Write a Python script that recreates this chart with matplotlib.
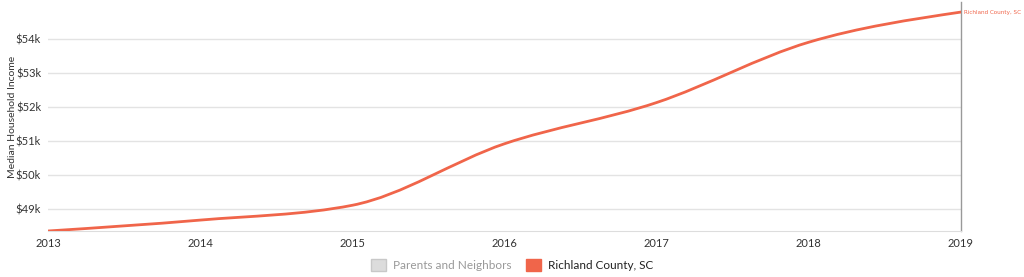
import matplotlib
matplotlib.use('Agg')
import matplotlib.pyplot as plt
import numpy as np
from matplotlib.path import Path
from matplotlib.patches import PathPatch, Patch

plt.rcParams['font.family'] = ['Lato', 'DejaVu Sans']

years = [2013, 2014, 2015, 2016, 2017, 2018, 2019]
income = [48360, 48680, 49115, 50920, 52130, 53900, 54785]
y_ticks = [49000, 50000, 51000, 52000, 53000, 54000]
y_labels = ['$49k', '$50k', '$51k', '$52k', '$53k', '$54k']
series_name = 'Richland County, SC'
other_name = 'Parents and Neighbors'

line_color = '#f0654a'


def monotone_path(xs, ys):
    # cubic bezier path with monotone tangents (like d3.curveMonotoneX)
    xs = np.asarray(xs, float)
    ys = np.asarray(ys, float)
    h = np.diff(xs)
    s = np.diff(ys) / h
    n = len(xs)
    t = np.zeros(n)
    for i in range(1, n - 1):
        if s[i - 1] * s[i] <= 0:
            t[i] = 0
        else:
            p = (s[i - 1] * h[i] + s[i] * h[i - 1]) / (h[i - 1] + h[i])
            t[i] = (np.sign(s[i - 1]) + np.sign(s[i])) * min(abs(s[i - 1]), abs(s[i]), 0.5 * abs(p))
    t[0] = (3 * s[0] - t[1]) / 2
    t[-1] = (3 * s[-1] - t[-2]) / 2
    verts = [(xs[0], ys[0])]
    codes = [Path.MOVETO]
    for i in range(n - 1):
        dx = h[i] / 3
        verts += [(xs[i] + dx, ys[i] + dx * t[i]),
                  (xs[i + 1] - dx, ys[i + 1] - dx * t[i + 1]),
                  (xs[i + 1], ys[i + 1])]
        codes += [Path.CURVE4] * 3
    return Path(verts, codes)


fig = plt.figure(figsize=(10.24, 2.77), dpi=100)
ax = fig.add_axes([48 / 1024, 1 - 231 / 277, (961 - 48) / 1024, 229 / 277])

ax.add_patch(PathPatch(monotone_path(years, income), fill=False,
                       edgecolor=line_color, lw=2, capstyle='round', zorder=3))

ax.set_xlim(years[0], years[-1])
ax.set_ylim(income[0], 55080)
ax.set_xticks(years)
ax.set_xticklabels([str(y) for y in years], fontsize=8, color='#333333')
ax.set_yticks(y_ticks)
ax.set_yticklabels(y_labels, fontsize=8, color='#333333')
ax.tick_params(length=0, pad=5)
ax.grid(axis='y', color='#e3e3e3', lw=1)
ax.set_axisbelow(True)
for side in ['top', 'left']:
    ax.spines[side].set_visible(False)
ax.spines['bottom'].set_color('#dddddd')
ax.spines['right'].set_color('#999999')
ax.spines['right'].set_linewidth(1)

ax.set_ylabel('Median Household Income', fontsize=7.5, color='#333333')
ax.yaxis.set_label_coords((17 - 48) / 913, 0.5)

ax.annotate(series_name, xy=(years[-1], income[-1]), xytext=(2.5, 0),
            textcoords='offset points', va='center', ha='left',
            fontsize=4.5, color=line_color, fontstretch='condensed',
            family=['DejaVu Sans'], annotation_clip=False)

handles = [Patch(facecolor='#dcdcdc', edgecolor='#c8c8c8', label=other_name),
           Patch(facecolor=line_color, edgecolor=line_color, label=series_name)]
leg = fig.legend(handles=handles, loc='center', bbox_to_anchor=(0.5, 1 - 265 / 277),
                 ncol=2, frameon=False, fontsize=8.5, handlelength=1.3, handleheight=1.3,
                 columnspacing=1.2, handletextpad=0.6)
texts = leg.get_texts()
texts[0].set_color('#999999')
texts[1].set_color('#222222')

fig.savefig('out.png', dpi=100)
